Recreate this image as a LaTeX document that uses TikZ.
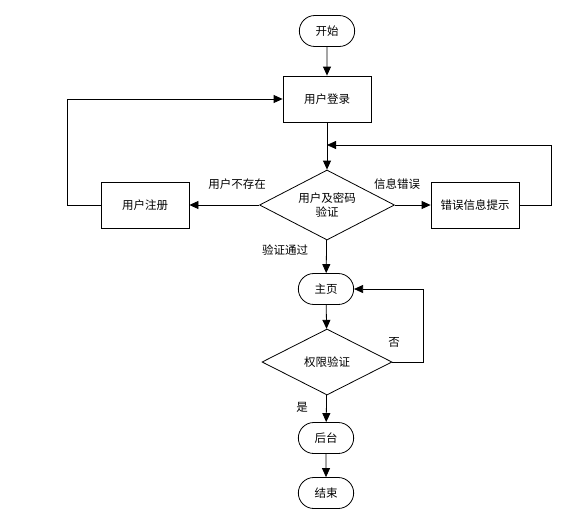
\documentclass[tikz,border=0pt]{standalone}
\usepackage{fontspec}
\setmainfont{Noto Sans CJK SC}
\usetikzlibrary{arrows.meta,shapes.geometric,shapes.misc}

\begin{document}
\begin{tikzpicture}[x=1pt,y=-1pt,line width=0.8pt,
  box/.style={draw,rectangle,minimum width=88pt,minimum height=46pt,font=\fontsize{11.5}{14}\selectfont},
  term/.style={draw,rounded rectangle,minimum width=62pt,minimum height=31pt,font=\fontsize{11.5}{14}\selectfont},
  check/.style={draw,diamond,aspect=1.95,inner sep=0pt,font=\fontsize{11.5}{14}\selectfont,align=center},
  lbl/.style={font=\fontsize{11.5}{14}\selectfont},
  >={Triangle[length=9pt,width=8pt]}]
\useasboundingbox (0,0) rectangle (567,520);
\node[term] (start) at (327,31) {开始};
\node[box] (login) at (327,99) {用户登录};
\node[check,minimum width=135pt,minimum height=70pt] (verify) at (327,205) {用户及密码\\验证};
\node[box] (reg) at (145,205) {用户注册};
\node[box] (err) at (475,205) {错误信息提示};
\node[term] (home) at (326,289) {主页};
\node[check,minimum width=130pt,minimum height=66pt] (perm) at (327,362) {权限验证};
\node[term] (back) at (326,438) {后台};
\node[term] (stop) at (326,493) {结束};
\coordinate (e1) at (327,145);
% main line
\draw[->] (start) -- (login);
\draw[->] (login) -- (verify);
\draw[->] (verify) -- (home);
\draw[->] (home) -- (perm);
\draw[->] (perm) -- (back);
\draw[->] (back) -- (stop);
% branches
\draw[->] (verify.west) -- (reg.east);
\draw[->] (verify.east) -- (err.west);
\draw[->] (reg.west) -- ++(-33,0) |- (login.west);
\draw[->] (err.east) -- ++(32,0) |- (e1);
\draw[->] (perm.east) -- ++(31,0) |- (home.east);
% labels
\node[lbl] (l1) at (237,184) {用户不存在};
\node[lbl] (l2) at (397,184) {信息错误};
\node[lbl] (l3) at (285,250) {验证通过};
\node[lbl] (l4) at (394,342) {否};
\node[lbl] (l5) at (302,407) {是};
\end{tikzpicture}
\end{document}
